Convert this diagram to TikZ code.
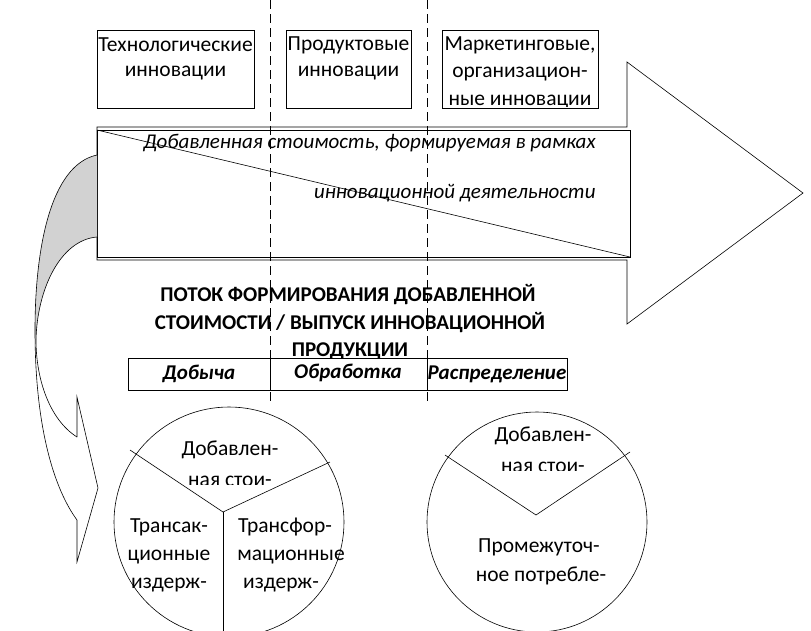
\documentclass[tikz,border=0pt]{standalone}
\usepackage{fontspec}
\setmainfont{Carlito}
\begin{document}
\begin{tikzpicture}[x=1pt,y=-1pt,line width=0.7pt,
  box/.style={draw,line width=0.6pt},
  t/.style={font=\fontsize{21.5}{28}\selectfont,align=center,inner sep=0pt},
  it/.style={font=\fontsize{21}{28}\selectfont\itshape,inner sep=0pt},
  bt/.style={font=\fontsize{21}{28}\selectfont\bfseries,align=center,inner sep=0pt},
  bit/.style={font=\fontsize{21}{28}\selectfont\bfseries\itshape,inner sep=0pt}]
\useasboundingbox (0,0) rectangle (811,630);
% big arrow
\draw[line width=0.6pt] (97,127) -- (627,127) -- (627,62) -- (803,193) -- (627,324) -- (627,260) -- (97,260) -- cycle;
% text box with diagonal
\draw[box,fill=white] (97,130) rectangle (630,257);
\draw[line width=0.6pt] (97,130) -- (630,257);
\node[it,anchor=east] (t1) at (596,143) {Добавленная стоимость, формируемая в рамках};
\node[it,anchor=east] (t2) at (596,193) {инновационной деятельности};
% curved arrow
\fill[gray!35] (97,155) .. controls (50,165) and (35,250) .. (35,330)
  -- (36,340) .. controls (37,290) and (60,240) .. (97,237) -- cycle;
\draw[line width=0.6pt] (97,155) .. controls (50,165) and (35,250) .. (35,330) .. controls (35,430) and (55,490) .. (77,520);
\draw[line width=0.6pt] (97,237) .. controls (60,240) and (37,290) .. (36,340) .. controls (36,380) and (50,420) .. (77,437);
\draw[line width=0.6pt] (77,437) -- (77,397) -- (98,488) -- (77,562) -- (77,520);
% top boxes
\draw[box] (97,30) rectangle (254,108);
\draw[box] (286,30) rectangle (411,108);
\draw[box] (442,30) rectangle (598,108);
\node[t] (b1) at (175.5,45) {Технологические};
\node[t] (b1b) at (175.5,73) {инновации};
\node[t] (b2) at (348.5,45) {Продуктовые};
\node[t] (b2b) at (348.5,73) {инновации};
\node[t] (b3) at (520,45) {Маркетинговые,};
\node[t] (b3b) at (520,74) {организацион-};
\begin{scope}
\clip (442,88) rectangle (598,106);
\node[t] (b3c) at (520,102) {ные инновации};
\end{scope}
% title
\node[bt] (h1) at (348,295) {ПОТОК ФОРМИРОВАНИЯ ДОБАВЛЕННОЙ};
\node[bt] (h2) at (350,323) {СТОИМОСТИ / ВЫПУСК ИННОВАЦИОННОЙ};
\begin{scope}
\clip (200,335) rectangle (500,357);
\node[bt] (h3) at (350,351) {ПРОДУКЦИИ};
\end{scope}
% table
\draw[box,fill=white] (128,358) rectangle (567,390);
\draw[box] (270,358) -- (270,390);
\draw[box] (427,358) -- (427,390);
\node[bit] (d1) at (199,374) {Добыча};
\node[bit] (d2) at (348,373) {Обработка};
\node[bit] (d3) at (497,374) {Распределение};
% dashed lines
\draw[line width=0.9pt,dash pattern=on 9pt off 5pt] (270,0) -- (270,405);
\draw[line width=0.9pt,dash pattern=on 9pt off 5pt] (427,0) -- (427,405);
% left circle
\draw[line width=0.6pt] (229,522) circle (115);
\draw[line width=0.6pt] (130,450) -- (223,512) -- (330,462);
\draw[line width=0.6pt] (223,512) -- (223,636);
\node[t] (c1) at (230,450) {Добавлен-};
\begin{scope}
\clip (160,465) rectangle (300,484);
\node[t] (c1b) at (230,481) {ная стои-};
\end{scope}
\node[t] (c2) at (169,527) {Трансак-};
\node[t] (c2b) at (169,557) {ционные};
\node[t] (c2c) at (169,585) {издерж-};
\node[t] (c3) at (285,527) {Трансфор-};
\node[t] (c3b) at (291,557) {мационные};
\node[t] (c3c) at (281,585) {издерж-};
% right circle
\draw[line width=0.6pt] (537,522) circle (110);
\draw[line width=0.6pt] (445,455) -- (536,515) -- (630,452);
\node[t] (r1) at (543,436) {Добавлен-};
\begin{scope}
\clip (470,451) rectangle (620,470);
\node[t] (r1b) at (543,467) {ная стои-};
\end{scope}
\node[t] (r2) at (539,547) {Промежуточ-};
\node[t] (r2b) at (541,576) {ное потребле-};
\end{tikzpicture}
\end{document}
